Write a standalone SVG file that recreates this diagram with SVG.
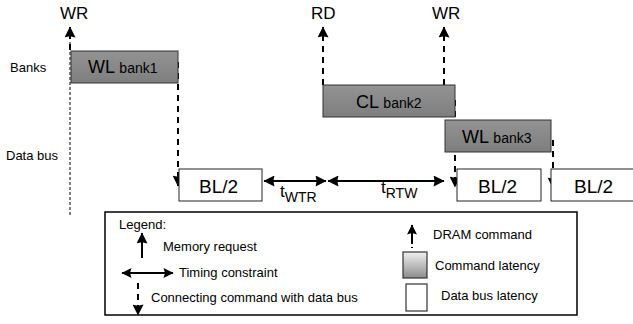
<svg xmlns="http://www.w3.org/2000/svg" width="633" height="324" viewBox="0 0 633 324">
<style>
text{font-family:"Liberation Sans",Arial,sans-serif;fill:#000}
.big{font-size:17px}
.wl{font-size:18px}
.sm{font-size:14px}
.bl{font-size:19px}
.lbl{font-size:13px}
.leg{font-size:13px}
.cmd{fill:url(#g1);stroke:#333;stroke-width:1}
.bus{fill:#fff;stroke:#222;stroke-width:1}
.dash{stroke:#000;stroke-width:2;stroke-dasharray:6,5;fill:none}
.thin{stroke:#000;stroke-width:1;stroke-dasharray:3,2;fill:none}
.solid{stroke:#000;stroke-width:2;fill:none}
</style>
<defs>
<linearGradient id="g1" x1="0" y1="0" x2="0" y2="1"><stop offset="0" stop-color="#939393"/><stop offset="1" stop-color="#7e7e7e"/></linearGradient>
<linearGradient id="g2" x1="0" y1="0" x2="0" y2="1"><stop offset="0" stop-color="#f0f0f0"/><stop offset="1" stop-color="#8c8c8c"/></linearGradient>
<marker id="ah" viewBox="0 0 10 10" refX="9.5" refY="5" markerWidth="12" markerHeight="11" orient="auto-start-reverse" markerUnits="userSpaceOnUse"><path d="M0,0 L10,5 L0,10 L1,5 z" fill="#000"/></marker>
<marker id="ahs" viewBox="0 0 10 10" refX="9.5" refY="5" markerWidth="11" markerHeight="10" orient="auto-start-reverse" markerUnits="userSpaceOnUse"><path d="M0,0 L10,5 L0,10 L1.5,5 z" fill="#000"/></marker>
</defs>
<g id="labels">
<text x="10" y="72" class="lbl">Banks</text>
<text x="6" y="160" class="lbl" font-size="14.5">Data bus</text>
</g>
<g id="connectors">
<line x1="70" y1="215" x2="70" y2="40" class="thin"/>
<line x1="70" y1="50" x2="70" y2="27" class="dash" marker-end="url(#ah)"/>
<line x1="323" y1="85" x2="323" y2="27" class="dash" marker-end="url(#ah)"/>
<line x1="444" y1="85" x2="444" y2="27" class="dash" marker-end="url(#ah)"/>
<line x1="178" y1="62" x2="178" y2="186" class="dash" marker-end="url(#ah)"/>
<line x1="455" y1="100" x2="455" y2="187" class="dash" marker-end="url(#ah)"/>
<line x1="553" y1="140" x2="553" y2="188" class="dash" marker-end="url(#ah)"/>
<line x1="264" y1="181" x2="326" y2="181" class="solid" marker-start="url(#ah)" marker-end="url(#ah)"/>
<line x1="328" y1="181" x2="444" y2="181" class="solid" marker-start="url(#ah)" marker-end="url(#ah)"/>
</g>
<g id="cmd-wr1"><text x="60" y="19" class="big">WR</text></g>
<g id="cmd-rd"><text x="311" y="19" class="big">RD</text></g>
<g id="cmd-wr2"><text x="432" y="19" class="big">WR</text></g>
<g id="wl-bank1">
<rect x="71" y="51" width="107" height="32" class="cmd"/>
<text x="88" y="73" class="wl">WL <tspan class="sm">bank1</tspan></text>
</g>
<g id="cl-bank2">
<rect x="323" y="85" width="132" height="32" class="cmd"/>
<text x="356" y="108" class="wl">CL <tspan class="sm">bank2</tspan></text>
</g>
<g id="wl-bank3">
<rect x="445" y="120" width="106" height="32" class="cmd"/>
<text x="462" y="143" class="wl">WL <tspan class="sm">bank3</tspan></text>
</g>
<g id="bl1">
<rect x="179" y="169" width="83" height="32" class="bus"/>
<text x="199" y="193" class="bl">BL/2</text>
</g>
<g id="bl2">
<rect x="457" y="169" width="84" height="32" class="bus"/>
<text x="478" y="193" class="bl">BL/2</text>
</g>
<g id="bl3">
<rect x="551" y="169" width="90" height="32" class="bus"/>
<text x="574" y="193" class="bl">BL/2</text>
</g>
<g id="twtr"><text x="280" y="197" class="big">t<tspan class="sm" dy="5">WTR</tspan></text></g>
<g id="trtw"><text x="381" y="193" class="big">t<tspan class="sm" dy="5">RTW</tspan></text></g>
<g id="legend">
<rect x="105" y="212" width="472" height="103" fill="#fff" stroke="#000" stroke-width="1.5"/>
<text x="119" y="229" class="lbl">Legend:</text>
<line x1="142" y1="258" x2="142" y2="233" class="solid" stroke-width="2.5" marker-end="url(#ah)"/>
<text x="163" y="251" class="leg">Memory request</text>
<line x1="122" y1="273" x2="173" y2="273" class="solid" marker-start="url(#ahs)" marker-end="url(#ahs)"/>
<text x="179" y="277" class="leg">Timing constraint</text>
<line x1="138" y1="283" x2="138" y2="315" class="dash" marker-end="url(#ah)"/>
<text x="151" y="302" class="leg" font-size="12.5">Connecting command with data bus</text>
<line x1="412" y1="244" x2="412" y2="225" class="solid" marker-end="url(#ahs)"/>
<rect x="411" y="247" width="2" height="1" fill="#000"/>
<text x="433" y="239" class="leg" font-size="12.5">DRAM command</text>
<rect x="403" y="252" width="24" height="26" fill="url(#g2)" stroke="#333" stroke-width="1.2"/>
<text x="435" y="270" class="leg" font-size="12">Command latency</text>
<rect x="406" y="284" width="21" height="27" fill="#fff" stroke="#333" stroke-width="1.2"/>
<text x="441" y="300" class="leg" font-size="12">Data bus latency</text>
</g>
</svg>
